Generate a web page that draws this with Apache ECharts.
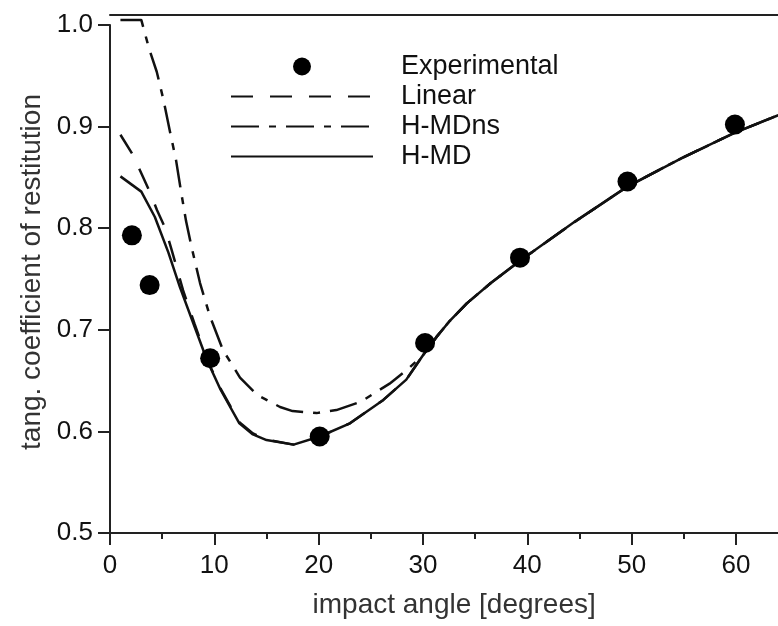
<!DOCTYPE html>
<html>
<head>
<meta charset="utf-8">
<script src="https://cdn.jsdelivr.net/npm/echarts@6/dist/echarts.min.js"></script>
<style>
  html, body { margin: 0; padding: 0; background: #fff; }
  #chart { width: 778px; height: 626px; }
</style>
</head>
<body>
<div id="chart"></div>
<script>
// ---- data ----
const expX = [2.1, 3.8, 9.6, 20.1, 30.2, 39.3, 49.6, 59.9];
const expY = [0.793, 0.744, 0.672, 0.595, 0.687, 0.771, 0.846, 0.902];

const hmdX = [1, 3.0, 4.3, 5.6, 6.7, 8.0, 9.3, 10.6, 12.4, 13.7, 15.0, 17.6, 20.1, 23.0, 26.2, 28.4, 30.0, 31.3, 32.5, 34.2, 36.5, 39.3, 44.5, 49.6, 54.8, 59.9, 64, 66];
const hmdY = [0.851, 0.836, 0.811, 0.776, 0.742, 0.706, 0.670, 0.641, 0.608, 0.597, 0.5915, 0.587, 0.595, 0.608, 0.631, 0.651, 0.675, 0.693, 0.708, 0.726, 0.746, 0.768, 0.806, 0.841, 0.869, 0.894, 0.911, 0.919];

const linX = [1, 2.2, 3.0, 3.8, 4.5, 5.3, 5.9, 7.0, 8.1, 9.3, 10.6, 12.4, 13.7, 15.0, 17.6, 20.1, 23.0, 26.2, 28.4, 30.0, 31.3, 32.5, 34.2, 36.5, 39.3, 44.5, 49.6, 54.8, 59.9, 64, 66];
const linY = [0.892, 0.872, 0.854, 0.836, 0.818, 0.800, 0.779, 0.739, 0.706, 0.671, 0.642, 0.609, 0.598, 0.592, 0.587, 0.595, 0.608, 0.631, 0.651, 0.675, 0.693, 0.708, 0.726, 0.746, 0.768, 0.806, 0.841, 0.869, 0.894, 0.911, 0.919];

const nsX = [1, 3.0, 3.74, 4.48, 5.11, 5.75, 6.33, 6.81, 7.29, 7.83, 8.63, 9.59, 10.83, 12.46, 14.1, 16.3, 17.5, 19.8, 21.7, 24.0, 26.8, 28.4, 30.0, 31.3, 32.5, 34.2, 36.5, 39.3, 44.5, 49.6, 54.8, 59.9, 64, 66];
const nsY = [1.005, 1.005, 0.977, 0.954, 0.927, 0.895, 0.867, 0.836, 0.807, 0.781, 0.746, 0.713, 0.680, 0.653, 0.636, 0.624, 0.620, 0.618, 0.621, 0.629, 0.647, 0.660, 0.675, 0.693, 0.708, 0.726, 0.746, 0.768, 0.806, 0.841, 0.869, 0.894, 0.911, 0.919];

const seriesNames = ['Experimental', 'Linear', 'H-MDns', 'H-MD'];
const xName = 'impact angle [degrees]';
const yName = 'tang. coefficient of restitution';

const pairs = (xs, ys) => xs.map((x, i) => [x, ys[i]]);

const FONT = "'Liberation Sans', Arial, Helvetica, sans-serif";
const INK = '#111';
const AXIS = '#222';

const chart = echarts.init(document.getElementById('chart'), null, { renderer: 'canvas' });

const lineBase = { type: 'line', showSymbol: false, symbol: 'none', clip: false, smooth: false, animation: false };
const hiddenIcon = { color: 'rgba(0,0,0,0)', borderWidth: 0, opacity: 0 };

chart.setOption({
  animation: false,
  backgroundColor: '#fff',
  grid: { left: 110, right: -62.3, top: 25, bottom: 93, containLabel: false, outerBoundsMode: 'none' },
  legend: {
    data: [
      { name: seriesNames[0] },
      { name: seriesNames[1], itemStyle: hiddenIcon },
      { name: seriesNames[2], itemStyle: hiddenIcon },
      { name: seriesNames[3], itemStyle: hiddenIcon }
    ],
    orient: 'vertical',
    left: 230, top: 53,
    padding: 0,
    itemWidth: 142, itemHeight: 18, itemGap: 3,
    selectedMode: false,
    textStyle: { fontFamily: FONT, fontSize: 27, color: INK, lineHeight: 27, padding: [0, 0, 0, 23] }
  },
  xAxis: [
    {
      type: 'value', min: 0, max: 70, interval: 10,
      name: xName, nameLocation: 'middle', nameGap: 58,
      nameTextStyle: { fontFamily: FONT, fontSize: 28, color: '#333', padding: [0, 42, 0, 0] },
      axisLine: { show: true, onZero: false, lineStyle: { color: AXIS, width: 2 } },
      axisTick: { show: true, inside: false, length: 12, lineStyle: { color: AXIS, width: 2 } },
      minorTick: { show: true, splitNumber: 2, length: 6, lineStyle: { color: AXIS, width: 2 } },
      axisLabel: { fontFamily: FONT, fontSize: 26, color: INK, margin: 20, formatter: v => String(Math.round(v)) },
      splitLine: { show: false }
    },
    {
      type: 'value', min: 0, max: 70, position: 'top', offset: 10,
      axisLine: { show: true, onZero: false, lineStyle: { color: AXIS, width: 2 } },
      axisTick: { show: false }, axisLabel: { show: false }, splitLine: { show: false }
    }
  ],
  yAxis: {
    type: 'value', min: 0.5, max: 1.0, interval: 0.1,
    name: yName, nameLocation: 'middle', nameGap: 63,
    nameTextStyle: { fontFamily: FONT, fontSize: 28, color: '#333', padding: [0, 0, 0, 14] },
    axisLine: { show: true, onZero: false, lineStyle: { color: AXIS, width: 2 } },
    axisTick: { show: true, inside: false, length: 12, lineStyle: { color: AXIS, width: 2 } },
    axisLabel: { fontFamily: FONT, fontSize: 26, color: INK, margin: 17, formatter: v => v.toFixed(1) },
    splitLine: { show: false }
  },
  series: [
    {
      name: 'Experimental', type: 'scatter', symbol: 'circle', symbolSize: 20, z: 5,
      itemStyle: { color: '#000', opacity: 1 }, data: pairs(expX, expY)
    },
    Object.assign({}, lineBase, {
      name: 'Linear', z: 3,
      lineStyle: { color: INK, width: 2.5, type: [22, 17] },
      itemStyle: { color: INK },
      data: pairs(linX, linY)
    }),
    Object.assign({}, lineBase, {
      name: 'H-MDns', z: 3,
      lineStyle: { color: INK, width: 2.5, type: [28, 10, 7, 10] },
      itemStyle: { color: INK },
      data: pairs(nsX, nsY)
    }),
    Object.assign({}, lineBase, {
      name: 'H-MD', z: 4,
      lineStyle: { color: INK, width: 2.5, type: 'solid' },
      itemStyle: { color: INK },
      data: pairs(hmdX, hmdY)
    })
  ]
});
</script>
</body>
</html>
